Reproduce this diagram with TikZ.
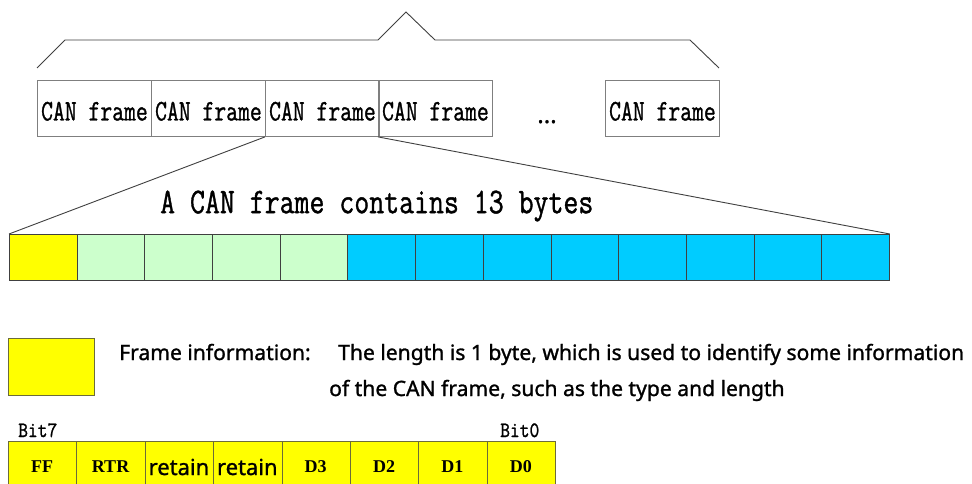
\documentclass[tikz,border=0pt]{standalone}
\usepackage{fontspec}
\setmainfont{Liberation Serif}
\newfontfamily\yahei[FakeBold=1.2]{Noto Sans}
\newfontfamily\simmono[FakeBold=1.2]{Latin Modern Mono}
\definecolor{bytegreen}{HTML}{CCFFCC}
\definecolor{bytecyan}{HTML}{00CCFF}
\definecolor{byteyellow}{HTML}{FFFF00}
\definecolor{framegray}{HTML}{7F7F7F}
\definecolor{linegray}{HTML}{404040}
\definecolor{olive}{HTML}{6B6B3A}
\newcommand{\tallmono}[2]{\scalebox{1}[#1]{#2}}
\newcommand{\canlbl}{\raisebox{-12pt}[0pt][0pt]{\scalebox{1}[1.3]{CAN frame}}}
\tikzset{
  canframe/.style={draw=framegray, line width=0.9pt, minimum width=114pt, minimum height=56pt, inner sep=0pt, anchor=north west, font=\simmono\fontsize{23}{24}\selectfont},
  bytebox/.style={draw=linegray, line width=0.9pt, minimum width=67.69pt, minimum height=46pt, inner sep=0pt, anchor=north west},
  bitbox/.style={draw=olive, line width=0.9pt, fill=byteyellow, minimum width=68.375pt, minimum height=52pt, inner sep=0pt, anchor=north west},
  conn/.style={draw=linegray, line width=0.9pt},
  serifbold/.style={font=\bfseries\fontsize{18}{20}\selectfont},
  sansbit/.style={font=\yahei\fontsize{22}{24}\selectfont},
  desc/.style={anchor=base west, inner sep=0pt, font=\yahei\fontsize{21.1}{24}\selectfont},
  bitlabel/.style={anchor=base west, inner sep=0pt, font=\simmono\fontsize{19}{20}\selectfont}
}
\begin{document}
\begin{tikzpicture}[x=1pt,y=-1pt]
\clip (0,0) rectangle (972,484);
\fill[white] (0,0) rectangle (972,484);
% brace over the CAN frames
\coordinate (brA) at (37,68);
\coordinate (brB) at (65,40);
\coordinate (brC) at (378,40);
\coordinate (brD) at (406,12);
\coordinate (brE) at (435,40);
\coordinate (brF) at (690,40);
\coordinate (brG) at (719,68);
\draw[conn] (brA) -- (brB) -- (brC) -- (brD) -- (brE) -- (brF) -- (brG);
% CAN frames
\node[canframe] (f1) at (37,80) {\canlbl};
\node[canframe] (f2) at (151,80) {\canlbl};
\node[canframe] (f3) at (265,80) {\canlbl};
\node[canframe] (f4) at (378,80) {\canlbl};
\node[canframe] (f5) at (605,80) {\canlbl};
\node[font=\yahei\bfseries\fontsize{24}{26}\selectfont, inner sep=0pt, anchor=base] (dots) at (547,123) {...};
% title
\node[anchor=west, inner sep=0pt, font=\simmono\fontsize{29}{30}\selectfont] (title) at (160,206) {\tallmono{1.25}{A CAN frame contains 13 bytes}};
% bytes
\foreach \i in {1,...,13}{
  \ifnum\i=1 \def\bc{byteyellow}\else\ifnum\i<6 \def\bc{bytegreen}\else\def\bc{bytecyan}\fi\fi
  \node[bytebox, fill=\bc] (b\i) at ({9+(\i-1)*67.692},234) {};
}
% zoom connectors
\draw[conn] (f3.south west) -- (b1.north west);
\draw[conn] (f4.south west) -- (b13.north east);
% legend
\node[draw=olive, line width=0.9pt, fill=byteyellow, minimum width=86pt, minimum height=57pt, inner sep=0pt, anchor=north west] (leg) at (8,338) {};
\node[desc] (fi) at (119,360) {Frame information:};
\node[desc] (l1) at (338,360) {The length is 1 byte, which is used to identify some information};
\node[desc] (l2) at (329,396) {of the CAN frame, such as the type and length};
% bits
\node[bitlabel] (bit7) at (18,437) {\tallmono{1.15}{Bit7}};
\node[bitlabel] (bit0) at (500,437) {\tallmono{1.15}{Bit0}};
\foreach \i/\t/\s in {1/FF/serifbold,2/RTR/serifbold,3/retain/sansbit,4/retain/sansbit,5/D3/serifbold,6/D2/serifbold,7/D1/serifbold,8/D0/serifbold}{
  \node[bitbox] (c\i) at ({8+(\i-1)*68.375},441) {};
  \node[\s, inner sep=0pt] (t\i) at ({8+(\i-0.5)*68.375},467) {\t};
}
\end{tikzpicture}
\end{document}
